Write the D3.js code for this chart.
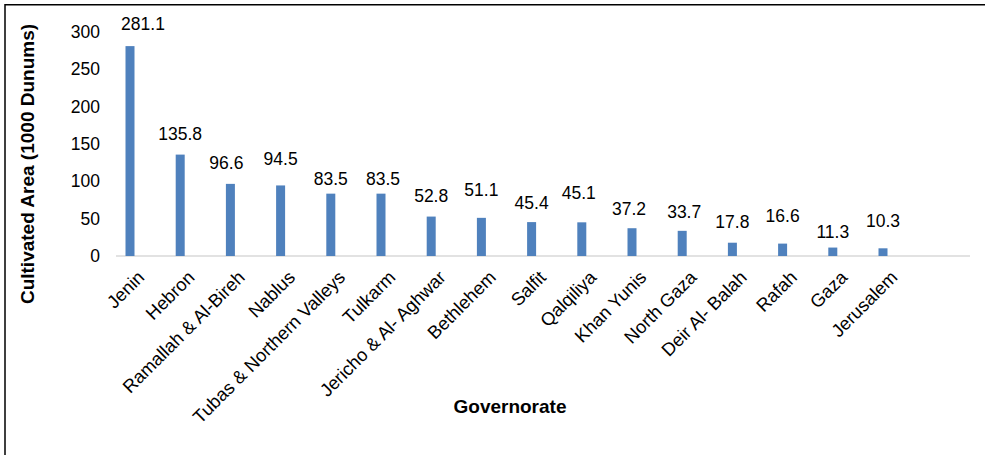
<!DOCTYPE html>
<html>
<head>
<meta charset="utf-8">
<script src="https://cdn.jsdelivr.net/npm/d3@7"></script>
<style>
  html, body { margin: 0; padding: 0; background: #fff; }
  svg { display: block; font-family: Arial, "Liberation Sans", sans-serif; }
</style>
</head>
<body>
<svg id="chart" width="985" height="455"></svg>
<script>
// ---- data ----
const categories = ["Jenin", "Hebron", "Ramallah & Al-Bireh", "Nablus", "Tubas & Northern Valleys",
  "Tulkarm", "Jericho & Al- Aghwar", "Bethlehem", "Salfit", "Qalqiliya", "Khan Yunis",
  "North Gaza", "Deir Al- Balah", "Rafah", "Gaza", "Jerusalem"];
const values = [281.1, 135.8, 96.6, 94.5, 83.5, 83.5, 52.8, 51.1, 45.4, 45.1, 37.2, 33.7, 17.8, 16.6, 11.3, 10.3];
const yTicks = [0, 50, 100, 150, 200, 250, 300];
const yTitle = "Cultivated  Area (1000 Dunums)";
const xTitle = "Governorate";

// label placement tweaks (layout, as in the reference where labels were hand-nudged)
const labelLift = [22, 21, 21, 27, 15, 15, 21, 28, 19, 29, 19, 19, 21, 28, 16, 27];
const labelDx   = [13, 0, -4, 0, 0, 2, 0, 0, 0, -3, -3, 2, 0, 0, 0, 0];

const svg = d3.select("#chart");

// frame (clipped on right/bottom in the reference)
svg.append("path")
  .attr("d", "M5,455 V4.75 H985")
  .attr("fill", "none").attr("stroke", "#000").attr("stroke-width", 1.5);

const y = d3.scaleLinear().domain([0, 300]).range([256, 32]);
const x = d3.scaleBand().domain(categories).range([104.9, 908.1]).padding(0);
const barW = 9;

// baseline
svg.append("line")
  .attr("x1", 116).attr("x2", 970)
  .attr("y1", y(0)).attr("y2", y(0))
  .attr("stroke", "#d9d9d9").attr("stroke-width", 1.5);

// y axis (labels only)
const yAxis = d3.axisLeft(y).tickValues(yTicks).tickSize(0).tickPadding(0);
const gy = svg.append("g").attr("transform", "translate(100,0)").call(yAxis);
gy.select(".domain").remove();
gy.selectAll("text").attr("font-size", 17.5).attr("fill", "#000")
  .attr("font-family", "Arial, 'Liberation Sans', sans-serif");

// bars
svg.append("g").selectAll("rect").data(values).join("rect")
  .attr("x", (d, i) => x(categories[i]) + x.bandwidth() / 2 - barW / 2)
  .attr("width", barW)
  .attr("y", d => y(d))
  .attr("height", d => y(0) - y(d))
  .attr("fill", "#4f81bd");

// value labels
svg.append("g").selectAll("text").data(values).join("text")
  .attr("x", (d, i) => x(categories[i]) + x.bandwidth() / 2 + labelDx[i])
  .attr("y", (d, i) => y(d) - labelLift[i])
  .attr("dy", "0.35em")
  .attr("text-anchor", "middle")
  .attr("font-size", 17.5)
  .attr("fill", "#000")
  .text(d => d.toFixed(1));

// category labels
svg.append("g").selectAll("text").data(categories).join("text")
  .attr("transform", d => `translate(${x(d) + x.bandwidth() / 2 + 11},274) rotate(-45)`)
  .attr("dy", "0.35em")
  .attr("text-anchor", "end")
  .attr("font-size", 18.3)
  .attr("fill", "#000")
  .text(d => d);

// axis titles
svg.append("text")
  .attr("transform", "translate(27,164) rotate(-90)")
  .attr("dy", "0.35em")
  .attr("text-anchor", "middle")
  .attr("font-size", 19).attr("font-weight", "bold")
  .text(yTitle);

svg.append("text")
  .attr("x", 510).attr("y", 413)
  .attr("text-anchor", "middle")
  .attr("font-size", 19).attr("font-weight", "bold")
  .text(xTitle);
</script>
</body>
</html>
